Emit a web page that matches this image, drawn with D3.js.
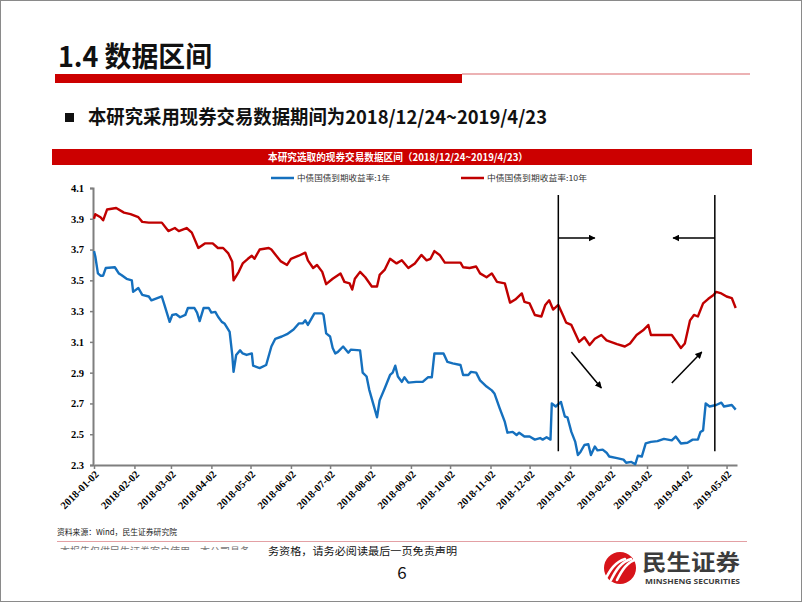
<!DOCTYPE html>
<html><head><meta charset="utf-8">
<script src="https://cdn.jsdelivr.net/npm/d3@7"></script>
<style>
html,body{margin:0;padding:0;background:#fff;}
svg{display:block;}
</style></head>
<body>
<script>
// ---------- DATA ----------
const pageTitle = "1.4 数据区间";
const subTitle = "本研究采用现券交易数据期间为2018/12/24~2019/4/23";
const chartTitle = "本研究选取的现券交易数据区间（2018/12/24~2019/4/23）";
const seriesNames = ["中债国债到期收益率:1年", "中债国债到期收益率:10年"];
const yTicks = [2.3, 2.5, 2.7, 2.9, 3.1, 3.3, 3.5, 3.7, 3.9, 4.1];
const xTickLabels = ["2018-01-02","2018-02-02","2018-03-02","2018-04-02","2018-05-02","2018-06-02","2018-07-02","2018-08-02","2018-09-02","2018-10-02","2018-11-02","2018-12-02","2019-01-02","2019-02-02","2019-03-02","2019-04-02","2019-05-02"];
const periodBounds = ["2018-12-24", "2019-04-23"];

const dates10 = ["2018-01-02","2018-01-03","2018-01-07","2018-01-09","2018-01-12","2018-01-19","2018-01-25","2018-01-30","2018-02-05","2018-02-08","2018-02-13","2018-02-23","2018-02-28","2018-03-05","2018-03-08","2018-03-14","2018-03-18","2018-03-23","2018-03-28","2018-04-03","2018-04-07","2018-04-11","2018-04-15","2018-04-18","2018-04-19","2018-04-23","2018-04-26","2018-04-30","2018-05-03","2018-05-05","2018-05-09","2018-05-16","2018-05-18","2018-05-25","2018-05-30","2018-06-02","2018-06-08","2018-06-13","2018-06-15","2018-06-19","2018-06-22","2018-06-26","2018-06-29","2018-07-04","2018-07-10","2018-07-13","2018-07-17","2018-07-19","2018-07-21","2018-07-25","2018-07-29","2018-08-03","2018-08-07","2018-08-09","2018-08-13","2018-08-17","2018-08-22","2018-08-26","2018-08-31","2018-09-05","2018-09-10","2018-09-14","2018-09-17","2018-09-20","2018-09-24","2018-09-28","2018-10-10","2018-10-12","2018-10-17","2018-10-22","2018-10-25","2018-10-30","2018-11-03","2018-11-07","2018-11-13","2018-11-17","2018-11-21","2018-11-26","2018-11-28","2018-12-02","2018-12-06","2018-12-11","2018-12-14","2018-12-17","2018-12-20","2018-12-24","2018-12-28","2018-12-30","2019-01-03","2019-01-06","2019-01-09","2019-01-13","2019-01-17","2019-01-21","2019-01-26","2019-01-30","2019-02-07","2019-02-13","2019-02-17","2019-02-22","2019-02-27","2019-03-03","2019-03-05","2019-03-12","2019-03-21","2019-03-24","2019-03-28","2019-03-31","2019-04-04","2019-04-07","2019-04-10","2019-04-14","2019-04-18","2019-04-22","2019-04-24","2019-04-28","2019-05-02","2019-05-06","2019-05-09"];
const yield10 = [3.90,3.93,3.91,3.89,3.96,3.97,3.94,3.93,3.91,3.88,3.875,3.875,3.82,3.84,3.82,3.84,3.81,3.71,3.74,3.74,3.71,3.71,3.675,3.62,3.50,3.555,3.61,3.64,3.66,3.64,3.70,3.71,3.70,3.625,3.60,3.64,3.66,3.68,3.63,3.58,3.60,3.555,3.475,3.51,3.545,3.49,3.48,3.44,3.51,3.555,3.52,3.46,3.46,3.535,3.57,3.64,3.61,3.63,3.58,3.61,3.665,3.63,3.64,3.69,3.665,3.615,3.615,3.585,3.58,3.59,3.545,3.52,3.545,3.49,3.48,3.355,3.375,3.415,3.36,3.35,3.275,3.265,3.34,3.37,3.31,3.34,3.265,3.225,3.21,3.155,3.10,3.13,3.08,3.12,3.145,3.11,3.085,3.07,3.09,3.145,3.175,3.21,3.145,3.145,3.145,3.11,3.06,3.09,3.24,3.275,3.265,3.35,3.38,3.405,3.425,3.415,3.395,3.385,3.32];

const dates1 = ["2018-01-02","2018-01-03","2018-01-05","2018-01-07","2018-01-09","2018-01-11","2018-01-18","2018-01-21","2018-01-23","2018-01-27","2018-01-31","2018-02-01","2018-02-05","2018-02-08","2018-02-13","2018-02-15","2018-02-23","2018-02-25","2018-03-01","2018-03-03","2018-03-06","2018-03-09","2018-03-13","2018-03-15","2018-03-20","2018-03-22","2018-03-24","2018-03-27","2018-03-31","2018-04-02","2018-04-05","2018-04-07","2018-04-10","2018-04-12","2018-04-16","2018-04-18","2018-04-19","2018-04-21","2018-04-24","2018-04-26","2018-04-29","2018-05-03","2018-05-04","2018-05-09","2018-05-14","2018-05-18","2018-05-21","2018-05-26","2018-05-30","2018-06-04","2018-06-08","2018-06-11","2018-06-13","2018-06-15","2018-06-20","2018-06-26","2018-06-27","2018-06-29","2018-07-02","2018-07-04","2018-07-06","2018-07-08","2018-07-12","2018-07-16","2018-07-18","2018-07-25","2018-07-27","2018-07-30","2018-08-01","2018-08-04","2018-08-07","2018-08-09","2018-08-13","2018-08-17","2018-08-19","2018-08-21","2018-08-23","2018-08-26","2018-08-28","2018-08-31","2018-09-06","2018-09-11","2018-09-15","2018-09-18","2018-09-20","2018-09-27","2018-09-30","2018-10-04","2018-10-10","2018-10-12","2018-10-16","2018-10-18","2018-10-22","2018-10-25","2018-10-30","2018-11-03","2018-11-05","2018-11-09","2018-11-13","2018-11-15","2018-11-19","2018-11-22","2018-11-24","2018-11-28","2018-12-02","2018-12-06","2018-12-10","2018-12-12","2018-12-15","2018-12-18","2018-12-19","2018-12-22","2018-12-26","2018-12-29","2018-12-31","2019-01-03","2019-01-06","2019-01-08","2019-01-10","2019-01-13","2019-01-16","2019-01-18","2019-01-21","2019-01-23","2019-01-27","2019-01-30","2019-02-01","2019-02-07","2019-02-12","2019-02-14","2019-02-18","2019-02-21","2019-02-23","2019-02-26","2019-03-01","2019-03-05","2019-03-10","2019-03-15","2019-03-21","2019-03-24","2019-03-28","2019-04-02","2019-04-06","2019-04-10","2019-04-12","2019-04-14","2019-04-16","2019-04-19","2019-04-24","2019-04-28","2019-04-30","2019-05-06","2019-05-09"];
const yield1 = [3.69,3.655,3.545,3.53,3.53,3.58,3.585,3.545,3.535,3.51,3.50,3.425,3.45,3.405,3.395,3.37,3.395,3.34,3.23,3.275,3.28,3.26,3.275,3.32,3.32,3.29,3.235,3.32,3.32,3.29,3.295,3.265,3.23,3.22,3.165,3.015,2.905,3.015,3.045,3.025,3.015,3.025,2.945,2.93,2.95,3.07,3.12,3.135,3.15,3.18,3.22,3.22,3.24,3.21,3.285,3.285,3.275,3.155,3.135,3.06,3.025,3.035,3.07,3.03,3.05,3.045,2.90,2.875,2.79,2.70,2.61,2.72,2.80,2.885,2.90,2.945,2.875,2.84,2.87,2.835,2.84,2.84,2.87,2.87,3.025,3.025,2.97,2.96,2.95,2.885,2.885,2.905,2.90,2.85,2.81,2.785,2.765,2.67,2.58,2.51,2.515,2.495,2.51,2.485,2.485,2.465,2.475,2.465,2.48,2.465,2.70,2.68,2.71,2.615,2.61,2.515,2.45,2.365,2.385,2.43,2.435,2.365,2.42,2.395,2.40,2.38,2.355,2.345,2.335,2.315,2.32,2.305,2.36,2.355,2.44,2.45,2.455,2.47,2.46,2.485,2.44,2.445,2.465,2.465,2.515,2.525,2.70,2.68,2.69,2.705,2.68,2.69,2.66];

// annotation arrows (date, value) pairs
const annoTop = 4.055, annoBottom = 2.39;
const hArrows = [["2018-12-24", "2019-01-21", 3.775], ["2019-04-23", "2019-03-22", 3.775]];
const dArrows = [["2019-01-03", 3.034, "2019-01-26", 2.80], ["2019-03-21", 2.833, "2019-04-13", 3.034]];

// ---------- DRAW ----------
const W = 802, H = 602;
const parse = d3.timeParse("%Y-%m-%d");
const fmt = d3.timeFormat("%Y-%m-%d");
const CJK = "'Noto Sans CJK SC','Noto Sans',sans-serif";
const SERIF = "'Liberation Serif','DejaVu Serif',serif";
const RED = "#c00000", BLUE = "#1570be";

const svg = d3.select("body").append("svg").attr("width", W).attr("height", H);
svg.append("rect").attr("x", 0.5).attr("y", 0.5).attr("width", W - 1).attr("height", H - 1)
  .attr("fill", "#fff").attr("stroke", "#8a8a8a").attr("stroke-width", 1);

// page title
svg.append("text").attr("x", 58).attr("y", 67).text(pageTitle)
  .attr("font-family", CJK).attr("font-weight", "bold").attr("font-size", 28)
  .attr("textLength", 154).attr("lengthAdjust", "spacingAndGlyphs").attr("fill", "#111");
svg.append("rect").attr("x", 55).attr("y", 74).attr("width", 407).attr("height", 9).attr("fill", "#cc0000");
svg.append("line").attr("x1", 462).attr("x2", 750).attr("y1", 74).attr("y2", 74)
  .attr("stroke", "#d9666a").attr("stroke-width", 1.2);

// subtitle
svg.append("rect").attr("x", 65).attr("y", 113).attr("width", 9).attr("height", 9).attr("fill", "#111");
svg.append("text").attr("x", 88).attr("y", 124).text(subTitle)
  .attr("font-family", CJK).attr("font-weight", "bold").attr("font-size", 19)
  .attr("textLength", 459).attr("lengthAdjust", "spacingAndGlyphs").attr("fill", "#111");

// chart title bar
svg.append("rect").attr("x", 52).attr("y", 149).attr("width", 700).attr("height", 16).attr("fill", "#cc0000");
svg.append("text").attr("x", 268).attr("y", 161).text(chartTitle)
  .attr("font-family", CJK).attr("font-weight", "bold").attr("font-size", 10).attr("fill", "#fff")
  .attr("textLength", 260).attr("lengthAdjust", "spacingAndGlyphs");

// legend
const legend = [
  {name: seriesNames[0], color: BLUE, x: 271, tl: 93},
  {name: seriesNames[1], color: RED, x: 461, tl: 100}
];
legend.forEach(l => {
  svg.append("line").attr("x1", l.x).attr("x2", l.x + 23).attr("y1", 178).attr("y2", 178)
    .attr("stroke", l.color).attr("stroke-width", 2.5);
  svg.append("text").attr("x", l.x + 26).attr("y", 181).text(l.name)
    .attr("font-family", CJK).attr("font-size", 8).attr("fill", "#333")
    .attr("textLength", l.tl).attr("lengthAdjust", "spacingAndGlyphs");
});

// scales
const x = d3.scaleTime().domain([parse("2018-01-02"), parse("2019-05-10")]).range([94, 737]);
const y = d3.scaleLinear().domain([2.3, 4.1]).range([465, 188]);

// y axis
const gy = svg.append("g").attr("transform", "translate(93,0)")
  .call(d3.axisLeft(y).tickValues(yTicks).tickFormat(d3.format(".1f")).tickSize(3).tickPadding(6));
gy.select(".domain").attr("stroke", "#7f7f7f").attr("stroke-width", 2);
gy.selectAll(".tick line").attr("stroke", "#7f7f7f").attr("stroke-width", 1.5);
gy.selectAll(".tick text").attr("font-family", SERIF).attr("font-weight", "bold")
  .attr("font-size", 10.5).attr("fill", "#000");

// x axis
const gx = svg.append("g").attr("transform", "translate(0,465)")
  .call(d3.axisBottom(x).tickValues(xTickLabels.map(parse)).tickFormat(fmt).tickSize(4).tickSizeOuter(0));
gx.select(".domain").attr("stroke", "#7f7f7f").attr("stroke-width", 2);
gx.selectAll(".tick line").attr("stroke", "#7f7f7f").attr("stroke-width", 1.5);
gx.selectAll(".tick text").attr("font-family", SERIF).attr("font-weight", "bold")
  .attr("font-size", 10.5).attr("fill", "#000")
  .attr("text-anchor", "end").attr("dy", null).attr("y", 0)
  .attr("transform", "translate(5,10) rotate(-45)");

// lines
const line = d3.line().x(d => x(d[0])).y(d => y(d[1]));
const s10 = dates10.map((d, i) => [parse(d), yield10[i]]);
const s1 = dates1.map((d, i) => [parse(d), yield1[i]]);
svg.append("path").datum(s10).attr("d", line).attr("fill", "none").attr("stroke", RED)
  .attr("stroke-width", 2.4).attr("stroke-linejoin", "round");
svg.append("path").datum(s1).attr("d", line).attr("fill", "none").attr("stroke", BLUE)
  .attr("stroke-width", 2.4).attr("stroke-linejoin", "round");

// annotations
const defs = svg.append("defs");
defs.append("marker").attr("id", "ah").attr("viewBox", "0 0 10 10").attr("refX", 9).attr("refY", 5)
  .attr("markerWidth", 7).attr("markerHeight", 7).attr("orient", "auto").attr("markerUnits", "userSpaceOnUse")
  .append("path").attr("d", "M0,0 L10,5 L0,10 Z").attr("fill", "#000");
periodBounds.forEach(d => {
  svg.append("line").attr("x1", x(parse(d))).attr("x2", x(parse(d)))
    .attr("y1", y(annoTop)).attr("y2", y(annoBottom)).attr("stroke", "#000").attr("stroke-width", 1.5);
});
hArrows.forEach(a => {
  svg.append("line").attr("x1", x(parse(a[0]))).attr("x2", x(parse(a[1])))
    .attr("y1", y(a[2])).attr("y2", y(a[2])).attr("stroke", "#000").attr("stroke-width", 1.5)
    .attr("marker-end", "url(#ah)");
});
dArrows.forEach(a => {
  svg.append("line").attr("x1", x(parse(a[0]))).attr("y1", y(a[1]))
    .attr("x2", x(parse(a[2]))).attr("y2", y(a[3])).attr("stroke", "#000").attr("stroke-width", 1.5)
    .attr("marker-end", "url(#ah)");
});

// footer
svg.append("text").attr("x", 57).attr("y", 535).text("资料来源：Wind，民生证券研究院")
  .attr("font-family", CJK).attr("font-size", 8).attr("fill", "#222")
  .attr("textLength", 120).attr("lengthAdjust", "spacingAndGlyphs");
svg.append("line").attr("x1", 57).attr("x2", 747).attr("y1", 541.5).attr("y2", 541.5)
  .attr("stroke", "#e3a0a4").attr("stroke-width", 1);
defs.append("clipPath").attr("id", "cut").append("rect").attr("x", 55).attr("y", 546).attr("width", 200).attr("height", 4);
svg.append("text").attr("x", 60).attr("y", 555).text("本报告仅供民生证券客户使用，本公司具备")
  .attr("font-family", CJK).attr("font-size", 10).attr("fill", "#777").attr("clip-path", "url(#cut)")
  .attr("textLength", 190).attr("lengthAdjust", "spacingAndGlyphs");
svg.append("text").attr("x", 268).attr("y", 555).text("务资格，请务必阅读最后一页免责声明")
  .attr("font-family", CJK).attr("font-size", 10.5).attr("fill", "#111")
  .attr("textLength", 189).attr("lengthAdjust", "spacingAndGlyphs");
svg.append("text").attr("x", 402).attr("y", 579).attr("text-anchor", "middle").text("6")
  .attr("font-family", CJK).attr("font-size", 17).attr("fill", "#111");

// logo
const lg = svg.append("g").attr("transform", "translate(620,568)");
lg.append("circle").attr("r", 16).attr("fill", "#d7141a");
[-7, -1, 5].forEach(o => {
  lg.append("path").attr("d", `M${o - 8},12 C${o - 3},2 ${o + 2},-6 ${o + 12},-9`)
    .attr("fill", "none").attr("stroke", "#fff").attr("stroke-width", 2.6).attr("stroke-linecap", "round");
});
svg.append("text").attr("x", 642).attr("y", 570).text("民生证券")
  .attr("font-family", CJK).attr("font-weight", "bold").attr("font-size", 22).attr("fill", "#3c3c3c")
  .attr("textLength", 98).attr("lengthAdjust", "spacingAndGlyphs");
svg.append("text").attr("x", 645).attr("y", 583.5).text("MINSHENG SECURITIES")
  .attr("font-family", "'Open Sans','DejaVu Sans',sans-serif").attr("font-weight", "bold").attr("font-size", 7.5).attr("fill", "#3c3c3c")
  .attr("textLength", 95).attr("lengthAdjust", "spacingAndGlyphs");
</script>
</body></html>
